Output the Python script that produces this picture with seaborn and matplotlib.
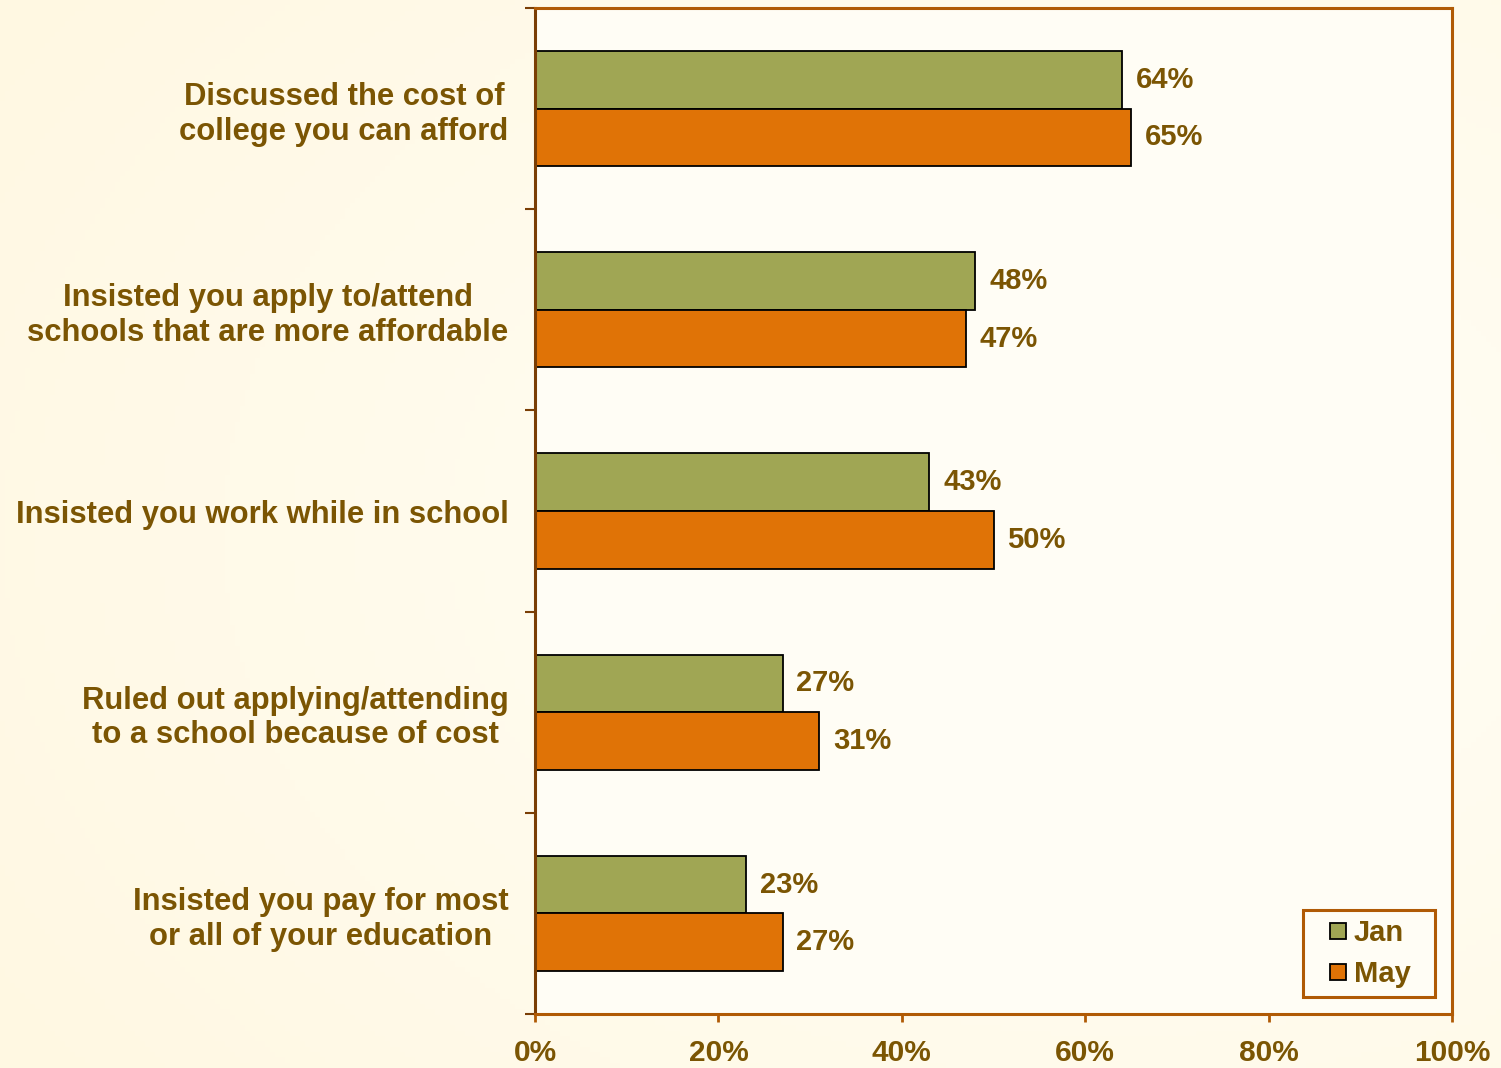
import numpy as np
import pandas as pd
import matplotlib
matplotlib.use("Agg")
import matplotlib.pyplot as plt
import seaborn as sns
from matplotlib.lines import Line2D
from matplotlib.colors import LinearSegmentedColormap

# Survey results: share of parents who took each action
categories = [
    "Discussed the cost of\ncollege you can afford",
    "Insisted you apply to/attend\nschools that are more affordable",
    "Insisted you work while in school",
    "Ruled out applying/attending\nto a school because of cost",
    "Insisted you pay for most\nor all of your education",
]
jan_values = [64, 48, 43, 27, 23]
may_values = [65, 47, 50, 31, 27]
series_names = ["Jan", "May"]
x_ticks = [0, 20, 40, 60, 80, 100]

TEXT = "#7B5503"
FRAME = "#B05A05"
LEFT_AXIS = "#7A3E05"
JAN_COLOR = "#A0A654"
MAY_COLOR = "#E07306"

df = pd.DataFrame({
    "category": categories * 2,
    "value": jan_values + may_values,
    "survey": [series_names[0]] * len(categories) + [series_names[1]] * len(categories),
})

sns.set_theme(style="white")
plt.rcParams["font.family"] = ["Liberation Sans", "DejaVu Sans"]
plt.rcParams["font.weight"] = "bold"

fig = plt.figure(figsize=(15.01, 10.68), dpi=100)
fig.patch.set_facecolor("#FFFBEA")

# soft cream gradient behind everything
bg = fig.add_axes([0, 0, 1, 1], zorder=-10)
gx, gy = np.meshgrid(np.linspace(0, 1, 300), np.linspace(0, 1, 200))
grad = np.clip(np.hypot(gx - 0.75, gy - 0.5) / 0.9, 0, 1)
cmap = LinearSegmentedColormap.from_list("cream", ["#FFFEF7", "#FFF8E2"])
bg.imshow(grad, cmap=cmap, aspect="auto", extent=[0, 1, 0, 1])
bg.set_axis_off()

ax = fig.add_axes([535 / 1501, 1 - 1014 / 1068, (1452 - 535) / 1501, (1014 - 8) / 1068])
ax.set_facecolor("#FFFDF5")

sns.barplot(
    data=df, x="value", y="category", hue="survey", orient="h",
    palette=[JAN_COLOR, MAY_COLOR], width=0.572, dodge=True,
    edgecolor="black", linewidth=1.3, saturation=1, ax=ax, legend=False,
)

for cont in ax.containers:
    ax.bar_label(cont, fmt="%d%%", padding=10, color=TEXT,
                 fontsize=21, fontweight="bold")

ax.set_xlim(0, 100)
ax.set_ylim(4.5, -0.5)
ax.set_xticks(x_ticks)
ax.set_xticklabels([f"{t}%" for t in x_ticks])
ax.set_xlabel("")
ax.set_ylabel("")

ax.set_yticks(range(len(categories)))
ax.set_yticklabels(categories, multialignment="center", linespacing=1.2)
ax.set_yticks(np.arange(-0.5, len(categories)), minor=True)
ax.tick_params(axis="y", which="major", length=0, pad=19,
               labelsize=22.3, labelcolor=TEXT)
ax.tick_params(axis="y", which="minor", length=7, width=1.5,
               color=LEFT_AXIS, left=True)
ax.tick_params(axis="x", length=6, width=2, color=FRAME, pad=12,
               labelsize=21.5, labelcolor=TEXT, bottom=True)
for lab in ax.get_yticklabels() + ax.get_xticklabels():
    lab.set_fontweight("bold")

for side in ["top", "right", "bottom"]:
    ax.spines[side].set_color(FRAME)
    ax.spines[side].set_linewidth(2.2)
ax.spines["left"].set_color(LEFT_AXIS)
ax.spines["left"].set_linewidth(2.2)

handles = [Line2D([], [], linestyle="none", marker="s", markersize=11.5,
                  markerfacecolor=c, markeredgecolor="black", markeredgewidth=1.3)
           for c in (JAN_COLOR, MAY_COLOR)]
leg = ax.legend(handles, series_names, loc="lower left", mode="expand",
                bbox_to_anchor=(0.8375, 0.0169, 0.144, 0.0875), borderaxespad=0,
                fancybox=False, frameon=True, handlelength=1.78,
                handletextpad=-0.34, labelspacing=0.45,
                borderpad=0.3, prop={"size": 21, "weight": "bold"})
leg.get_frame().set_edgecolor(FRAME)
leg.get_frame().set_linewidth(2.2)
leg.get_frame().set_facecolor("#FFFDF5")
leg.get_frame().set_alpha(1)
for t in leg.get_texts():
    t.set_color(TEXT)

fig.savefig("out.png", dpi=100, facecolor=fig.get_facecolor())
